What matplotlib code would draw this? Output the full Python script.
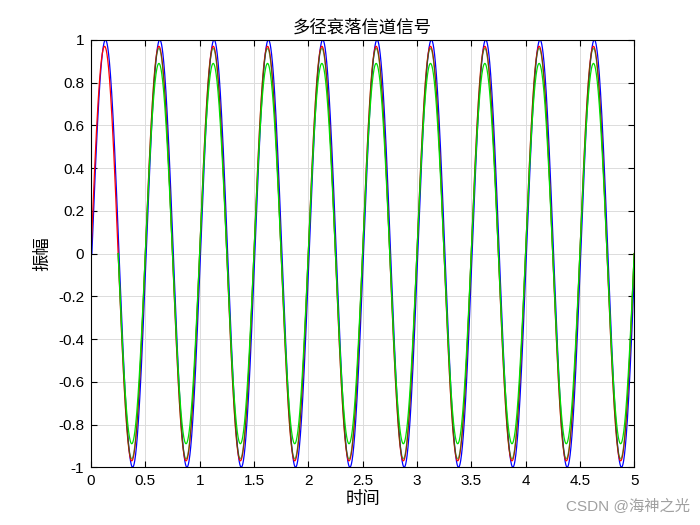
import numpy as np
import matplotlib
matplotlib.use('Agg')
import matplotlib.pyplot as plt

plt.rcParams['font.family'] = ['Liberation Sans', 'Noto Sans CJK SC', 'DejaVu Sans']

# signal parameters
freq = 2.0                      # Hz, period 0.5
t = np.arange(0, 5.001, 0.001)

path_gains = [1.0, 0.97, 0.96, 0.89]
path_delay = [0.008, 0.0, 0.0, 0.0]     # blue path lags a little
path_start = [0.008, 0.0, 0.25, 0.25]   # green paths appear after 0.25 s
path_colors = ['#0000ff', '#ff0000', '#008000', '#00e000']
path_alpha = [1.0, 1.0, 0.6, 1.0]

xticks = [0, 0.5, 1, 1.5, 2, 2.5, 3, 3.5, 4, 4.5, 5]
xticklabels = ['0', '0.5', '1', '1.5', '2', '2.5', '3', '3.5', '4', '4.5', '5']
yticks = [-1, -0.8, -0.6, -0.4, -0.2, 0, 0.2, 0.4, 0.6, 0.8, 1]
yticklabels = ['-1', '-0.8', '-0.6', '-0.4', '-0.2', '0', '0.2', '0.4', '0.6', '0.8', '1']

fig = plt.figure(figsize=(7, 5.25), dpi=100)
ax = fig.add_axes([0.13, 0.11, 0.776, 0.814])

for g, d, st, c, a in zip(path_gains, path_delay, path_start, path_colors, path_alpha):
    y = g * np.sin(2 * np.pi * freq * (t - d))
    y[t < st] = np.nan
    ax.plot(t, y, color=c, lw=0.9, alpha=a)

ax.set_xlim(0, 5)
ax.set_ylim(-1, 1)
ax.set_xticks(xticks)
ax.set_xticklabels(xticklabels)
ax.set_yticks(yticks)
ax.set_yticklabels(yticklabels)
ax.tick_params(direction='in', length=4, labelsize=11, top=True, right=True,
               labeltop=False, labelright=False, pad=5)
ax.grid(True, color='#dcdcdc', lw=0.7)
ax.set_axisbelow(True)
for s in ax.spines.values():
    s.set_linewidth(0.8)

cjk = ['Noto Sans CJK SC', 'DejaVu Sans']
ax.set_title('多径衰落信道信号', fontsize=12.5, family=cjk, pad=5)
ax.set_xlabel('时间', fontsize=12.5, family=cjk, labelpad=1)
ax.set_ylabel('振幅', fontsize=12.5, family=cjk, labelpad=5)

fig.text(0.985, 0.02, 'CSDN @海神之光', ha='right', va='bottom', fontsize=11,
         color='#a0a0a0', family=['Liberation Sans', 'Noto Sans CJK SC'])

fig.savefig('out.png', dpi=100)
